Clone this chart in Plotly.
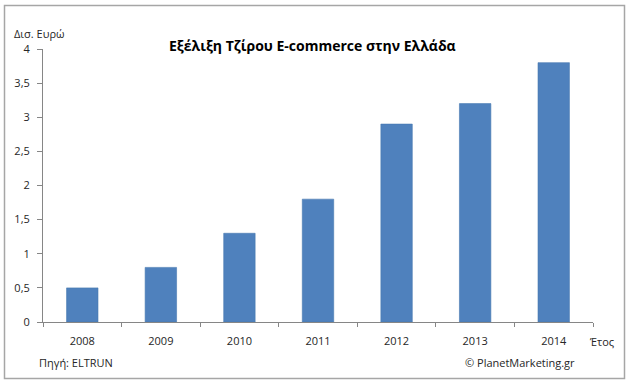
import plotly.graph_objects as go

years = ["2008", "2009", "2010", "2011", "2012", "2013", "2014"]
values = [0.5, 0.8, 1.3, 1.8, 2.9, 3.2, 3.8]
ytick_vals = [0, 0.5, 1, 1.5, 2, 2.5, 3, 3.5, 4]

title_text = "Εξέλιξη Τζίρου E-commerce στην Ελλάδα"
y_label = "Δισ. Ευρώ"
x_label = "Έτος"
source_text = "Πηγή: ELTRUN"
credit_text = "© PlanetMarketing.gr"

FONT = "Open Sans, Noto Sans, DejaVu Sans, sans-serif"
TXT = "#262626"

L, R, T, B = 43, 37, 49, 62
W, H = 630, 384
pw, ph = W - L - R, H - T - B

def px(x):
    return (x - L) / pw

def py(y):
    return (H - B - y) / ph

fig = go.Figure(go.Bar(
    x=years, y=values,
    marker=dict(color="#4F81BD", line=dict(color="#4778B0", width=0.6)),
    width=0.4,
))

fig.update_layout(
    width=W, height=H,
    margin=dict(l=L, r=R, t=T, b=B),
    paper_bgcolor="white", plot_bgcolor="white",
    separators=", ",
    font=dict(family=FONT, size=11, color=TXT),
    showlegend=False,
    xaxis=dict(
        type="category", showgrid=False, showline=True, linecolor="#868686",
        linewidth=1, ticks="outside", tickson="boundaries", ticklen=4,
        tickcolor="#868686", tickfont=dict(size=11, color=TXT),
        range=[-0.5, 6.5], fixedrange=True, ticklabelstandoff=9,
    ),
    yaxis=dict(
        range=[0, 4], tickvals=ytick_vals, showgrid=False, showline=True,
        linecolor="#868686", linewidth=1, ticks="outside", ticklen=5,
        tickcolor="#868686", tickfont=dict(size=11, color=TXT),
        zeroline=False, tickformat="~g", ticklabelstandoff=5, fixedrange=True,
    ),
    shapes=[dict(
        type="rect", xref="paper", yref="paper",
        x0=px(4.5), x1=px(624.5), y0=py(378.5), y1=py(5.5),
        line=dict(color="#A6A6A6", width=1.5), fillcolor="rgba(0,0,0,0)",
    )],
    annotations=[
        dict(text="<b>" + title_text + "</b>", xref="paper", yref="paper",
             x=px(312), y=py(45), showarrow=False, xanchor="center", yanchor="middle",
             font=dict(size=14, color="#000000")),
        dict(text=y_label, xref="paper", yref="paper", x=px(12), y=py(33),
             showarrow=False, xanchor="left", yanchor="middle", font=dict(size=11, color=TXT)),
        dict(text=x_label, xref="paper", yref="paper", x=px(587), y=py(341),
             showarrow=False, xanchor="left", yanchor="middle", font=dict(size=11, color=TXT)),
        dict(text=source_text, xref="paper", yref="paper", x=px(37), y=py(362),
             showarrow=False, xanchor="left", yanchor="middle", font=dict(size=11, color=TXT)),
        dict(text=credit_text, xref="paper", yref="paper", x=px(577), y=py(362),
             showarrow=False, xanchor="right", yanchor="middle", font=dict(size=11, color=TXT)),
    ],
)

fig.write_html("out.html", config={"displayModeBar": False},
               post_script="document.body.style.margin='0';document.body.style.overflow='hidden';")
